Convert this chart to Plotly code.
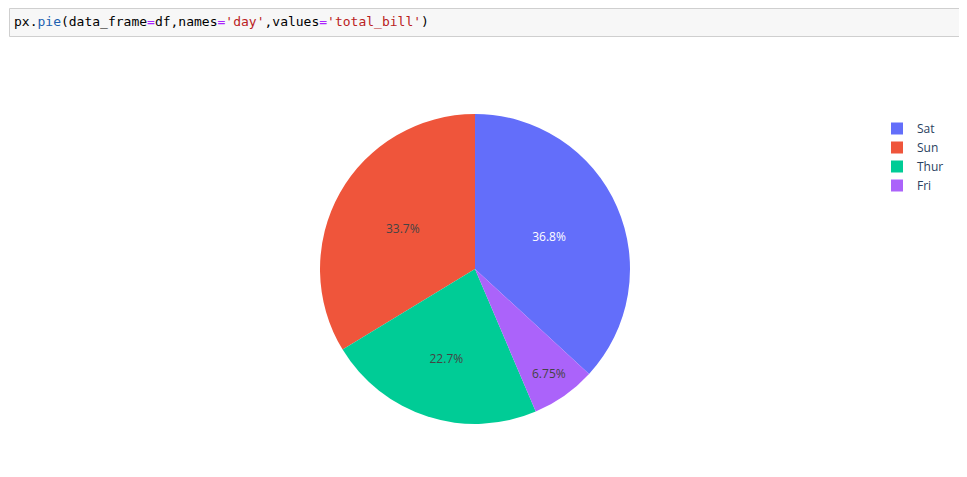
import plotly.graph_objects as go

days = ["Sat", "Sun", "Thur", "Fri"]
total_bill = [1778.40, 1627.16, 1096.33, 325.88]
colors = ["#636efa", "#EF553B", "#00cc96", "#ab63fa"]

# page body has an 8px margin; positions below are in page pixels
W, H = 959, 469
ml, mr, mt, mb = 72, 97, 106, 53
pw, ph = W - ml - mr, H - mt - mb
OFF = 8

def px_x(x):
    return (x - OFF - ml) / pw

def px_y(y):
    return 1 - (y - OFF - mt) / ph

fig = go.Figure(go.Pie(
    labels=days, values=total_bill,
    marker=dict(colors=colors, line=dict(color="white", width=0)),
    sort=True,
    textfont=dict(size=12),
))

code = ("<span style='color:#000000'>px.</span><span style='color:#2060b0'>pie</span>"
        "<span style='color:#000000'>(data_frame</span><span style='color:#aa22ff'>=</span>"
        "<span style='color:#000000'>df,names</span><span style='color:#aa22ff'>=</span>"
        "<span style='color:#ba2121'>'day'</span><span style='color:#000000'>,values</span>"
        "<span style='color:#aa22ff'>=</span><span style='color:#ba2121'>'total_bill'</span>"
        "<span style='color:#000000'>)</span>")

fig.add_shape(type="rect", xref="paper", yref="paper",
              x0=px_x(9.5), x1=px_x(961.5), y0=px_y(36.5), y1=px_y(8.5),
              fillcolor="#f7f7f7", line=dict(color="#cfcfcf", width=1), layer="below")
fig.add_annotation(xref="paper", yref="paper", x=px_x(12), y=px_y(22),
                   xanchor="left", yanchor="middle", showarrow=False, text=code,
                   font=dict(family="DejaVu Sans Mono", size=13, color="#000000"))

fig.update_layout(
    template="plotly",
    width=W, height=H,
    margin=dict(l=ml, r=mr, t=mt, b=mb),
    font=dict(family="Open Sans", color="#2a3f5f", size=12),
    legend=dict(x=px_x(877), y=1.0, xanchor="left", yanchor="top", tracegroupgap=0),
    paper_bgcolor="white",
)

fig.write_html("out.html")
